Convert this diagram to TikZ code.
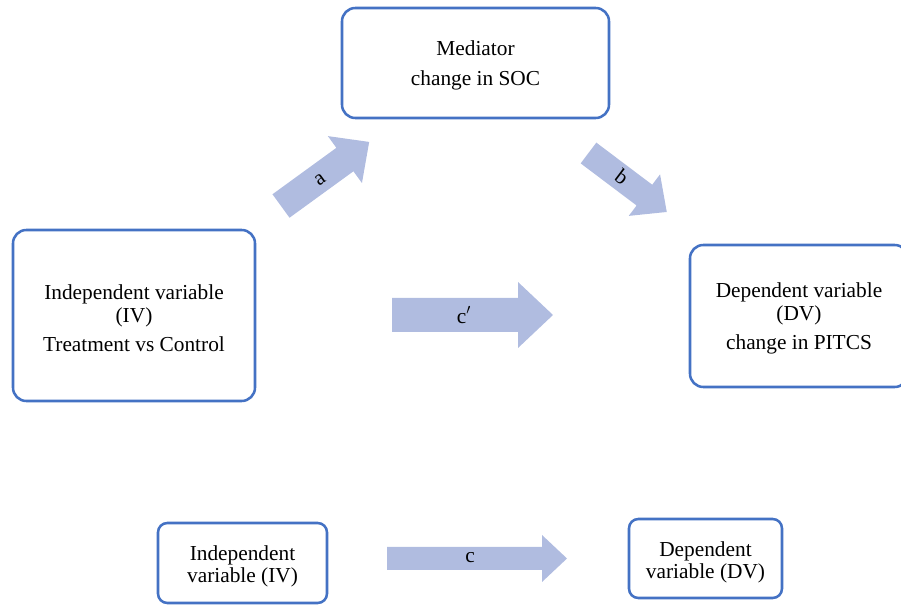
\documentclass[tikz,border=0pt]{standalone}
\usepackage{fontspec}
\setmainfont{Liberation Serif}
\definecolor{boxblue}{RGB}{68,114,196}
\definecolor{arrowfill}{RGB}{176,188,224}
\tikzset{
  varbox/.style={draw=boxblue, line width=1.9pt, rounded corners=10pt, fill=white, inner sep=0pt},
  smallbox/.style={varbox, rounded corners=7pt},
  boxtext/.style={align=center, inner sep=0pt, yshift=-2pt,
    font=\fontsize{16pt}{17.25pt}\selectfont},
  smalltext/.style={boxtext, yshift=-0.6pt, font=\fontsize{16pt}{16.5pt}\selectfont},
  fatarrow/.style={fill=arrowfill, draw=none},
  pathlabel/.style={inner sep=0pt, font=\fontsize{16pt}{17.25pt}\selectfont},
}
\begin{document}
\begin{tikzpicture}[x=0.75pt,y=-0.75pt]
\clip (0,0) rectangle (901,605);

% variable boxes of the mediation model
\node[varbox, minimum width={267*0.75pt}, minimum height={110*0.75pt},
  label={[boxtext]center:{Mediator\\[5.25pt]change in SOC}}] (med) at (475.5,63) {};
\node[varbox, minimum width={242*0.75pt}, minimum height={171*0.75pt},
  label={[boxtext]center:{Independent variable\\(IV)\\[4.5pt]Treatment vs Control}}] (iv) at (134,315.5) {};
\node[varbox, minimum width={218*0.75pt}, minimum height={142*0.75pt},
  label={[boxtext]center:{Dependent variable\\(DV)\\[4.5pt]change in PITCS}}] (dv) at (799,316) {};

% total effect model
\node[smallbox, minimum width={169*0.75pt}, minimum height={80*0.75pt},
  label={[smalltext]center:{Independent\\variable (IV)}}] (ivtot) at (242.5,563) {};
\node[smallbox, minimum width={153*0.75pt}, minimum height={79*0.75pt},
  label={[smalltext]center:{Dependent\\variable (DV)}}] (dvtot) at (705.5,558.5) {};

% path a: IV -> mediator
\begin{scope}[shift={(281,206)}, rotate=36]
  \fill[fatarrow] (0,-14.5) -- (79,-14.5) -- (79,-29) -- (109,0) -- (79,29) -- (79,14.5) -- (0,14.5) -- cycle;
\end{scope}
\node[pathlabel, rotate=36] (la) at (320,180) {a};

% path b: mediator -> DV
\begin{scope}[shift={(588.5,153)}, rotate=-37]
  \fill[fatarrow] (0,-13) -- (70,-13) -- (70,-26) -- (98,0) -- (70,26) -- (70,13) -- (0,13) -- cycle;
\end{scope}
\node[pathlabel, rotate=-37] (lb) at (622,177) {b};

% direct path c'
\begin{scope}[shift={(392,315)}]
  \fill[fatarrow] (0,-17) -- (126,-17) -- (126,-33) -- (161,0) -- (126,33) -- (126,17) -- (0,17) -- cycle;
\end{scope}
\node[pathlabel] (lcp) at (464,315) {c$'$};

% total path c
\begin{scope}[shift={(387,558.5)}]
  \fill[fatarrow] (0,-11.5) -- (155,-11.5) -- (155,-23.5) -- (180,0) -- (155,23.5) -- (155,11.5) -- (0,11.5) -- cycle;
\end{scope}
\node[pathlabel] (lc) at (470,558) {c};
\end{tikzpicture}
\end{document}
